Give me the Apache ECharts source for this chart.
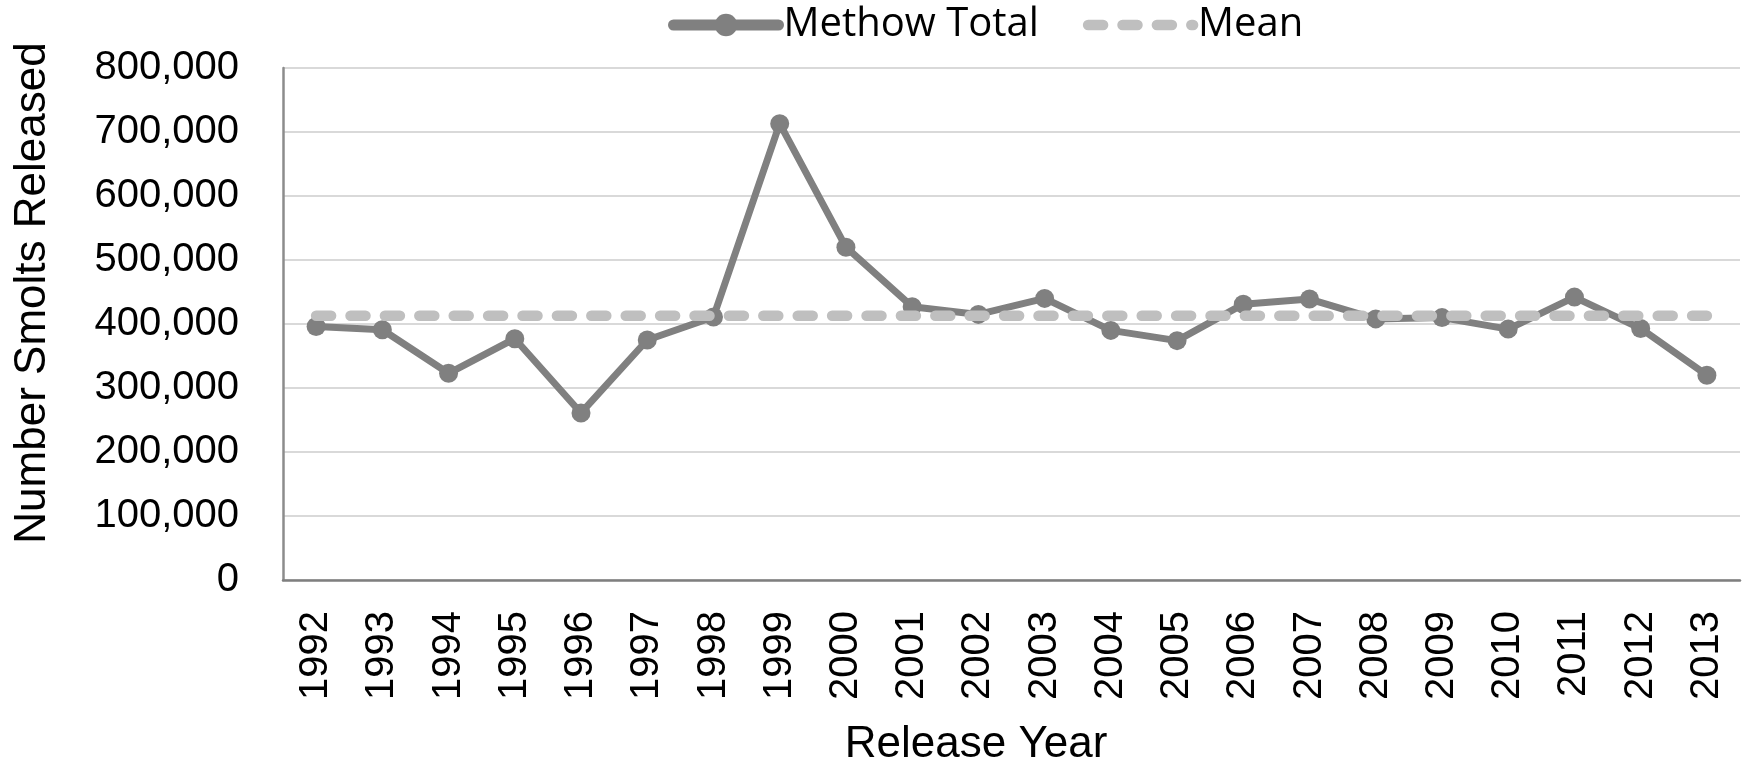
<!DOCTYPE html>
<html>
<head>
<meta charset="utf-8">
<script src="https://cdn.jsdelivr.net/npm/echarts@6/dist/echarts.min.js"></script>
<style>
  html, body { margin: 0; padding: 0; background: #ffffff; }
  #chart { width: 1744px; height: 768px; }
</style>
</head>
<body>
<div id="chart"></div>
<script>
// Release years on the category axis
const years = ['1992', '1993', '1994', '1995', '1996', '1997', '1998', '1999', '2000', '2001', '2002',
               '2003', '2004', '2005', '2006', '2007', '2008', '2009', '2010', '2011', '2012', '2013'];

// Smolts released per year, Methow basin total
const methowTotal = [396000, 391000, 323000, 377000, 261000, 375000, 411000, 713000, 520000, 427000, 415000,
                     440000, 390000, 374000, 431000, 439000, 408000, 410000, 392000, 442000, 393000, 320000];

// Long-term mean, drawn as a flat reference line
const meanLine = [413000, 413000, 413000, 413000, 413000, 413000, 413000, 413000, 413000, 413000, 413000,
                  413000, 413000, 413000, 413000, 413000, 413000, 413000, 413000, 413000, 413000, 413000];

// Value-axis ticks
const yTicks = [0, 100000, 200000, 300000, 400000, 500000, 600000, 700000, 800000];

const sans = '"Liberation Sans", Arial, sans-serif';
const legendFont = '"Open Sans", sans-serif';

const totalColor = '#808080';
const meanColor = '#bfbfbf';
const meanDash = [15, 19.4];

const chart = echarts.init(document.getElementById('chart'), null, { renderer: 'canvas' });

chart.setOption({
  backgroundColor: '#ffffff',
  animation: false,
  legend: {
    left: 663,
    top: 0,
    itemWidth: 105,
    itemHeight: 28,
    itemGap: 44,
    textStyle: { fontFamily: legendFont, fontSize: 40, color: '#000000' },
    data: [
      {
        name: 'Methow Total',
        itemStyle: { color: totalColor },
        lineStyle: { color: totalColor, width: 11, cap: 'round', type: 'solid' }
      },
      {
        name: 'Mean',
        itemStyle: { opacity: 0 },
        lineStyle: { color: meanColor, width: 10.5, cap: 'round', type: meanDash }
      }
    ]
  },
  grid: { left: 283, right: 4, top: 68, bottom: 188, containLabel: false },
  xAxis: {
    type: 'category',
    data: years,
    boundaryGap: true,
    axisLine: { show: true, lineStyle: { color: '#7f7f7f', width: 2.5 } },
    axisTick: { show: false },
    axisLabel: { rotate: 90, margin: 31, fontFamily: sans, fontSize: 40, color: '#000000', interval: 0 },
    splitLine: { show: false }
  },
  yAxis: {
    type: 'value',
    min: yTicks[0],
    max: yTicks[yTicks.length - 1],
    interval: yTicks[1] - yTicks[0],
    axisLine: { show: true, lineStyle: { color: '#8c8c8c', width: 2.5 } },
    axisTick: { show: false },
    axisLabel: {
      margin: 44, fontFamily: sans, fontSize: 40, color: '#000000',
      formatter: v => v.toLocaleString('en-US')
    },
    splitLine: { show: true, lineStyle: { color: '#d9d9d9', width: 2 } }
  },
  series: [
    {
      name: 'Mean',
      type: 'line',
      data: meanLine,
      symbol: 'none',
      z: 3,
      lineStyle: { color: meanColor, width: 10.5, type: meanDash, cap: 'round' },
      itemStyle: { color: meanColor }
    },
    {
      name: 'Methow Total',
      type: 'line',
      data: methowTotal,
      symbol: 'circle',
      symbolSize: 19,
      z: 2,
      lineStyle: { color: totalColor, width: 7 },
      itemStyle: { color: totalColor }
    }
  ],
  graphic: [
    {
      type: 'text',
      x: 33,
      y: 293,
      rotation: Math.PI / 2,
      style: {
        text: 'Number Smolts Released',
        font: '44px "Liberation Sans", Arial, sans-serif',
        fill: '#000000',
        align: 'center',
        verticalAlign: 'middle'
      }
    },
    {
      type: 'text',
      x: 976,
      y: 745,
      style: {
        text: 'Release Year',
        font: '44px "Liberation Sans", Arial, sans-serif',
        fill: '#000000',
        align: 'center',
        verticalAlign: 'middle'
      }
    }
  ]
});
</script>
</body>
</html>
